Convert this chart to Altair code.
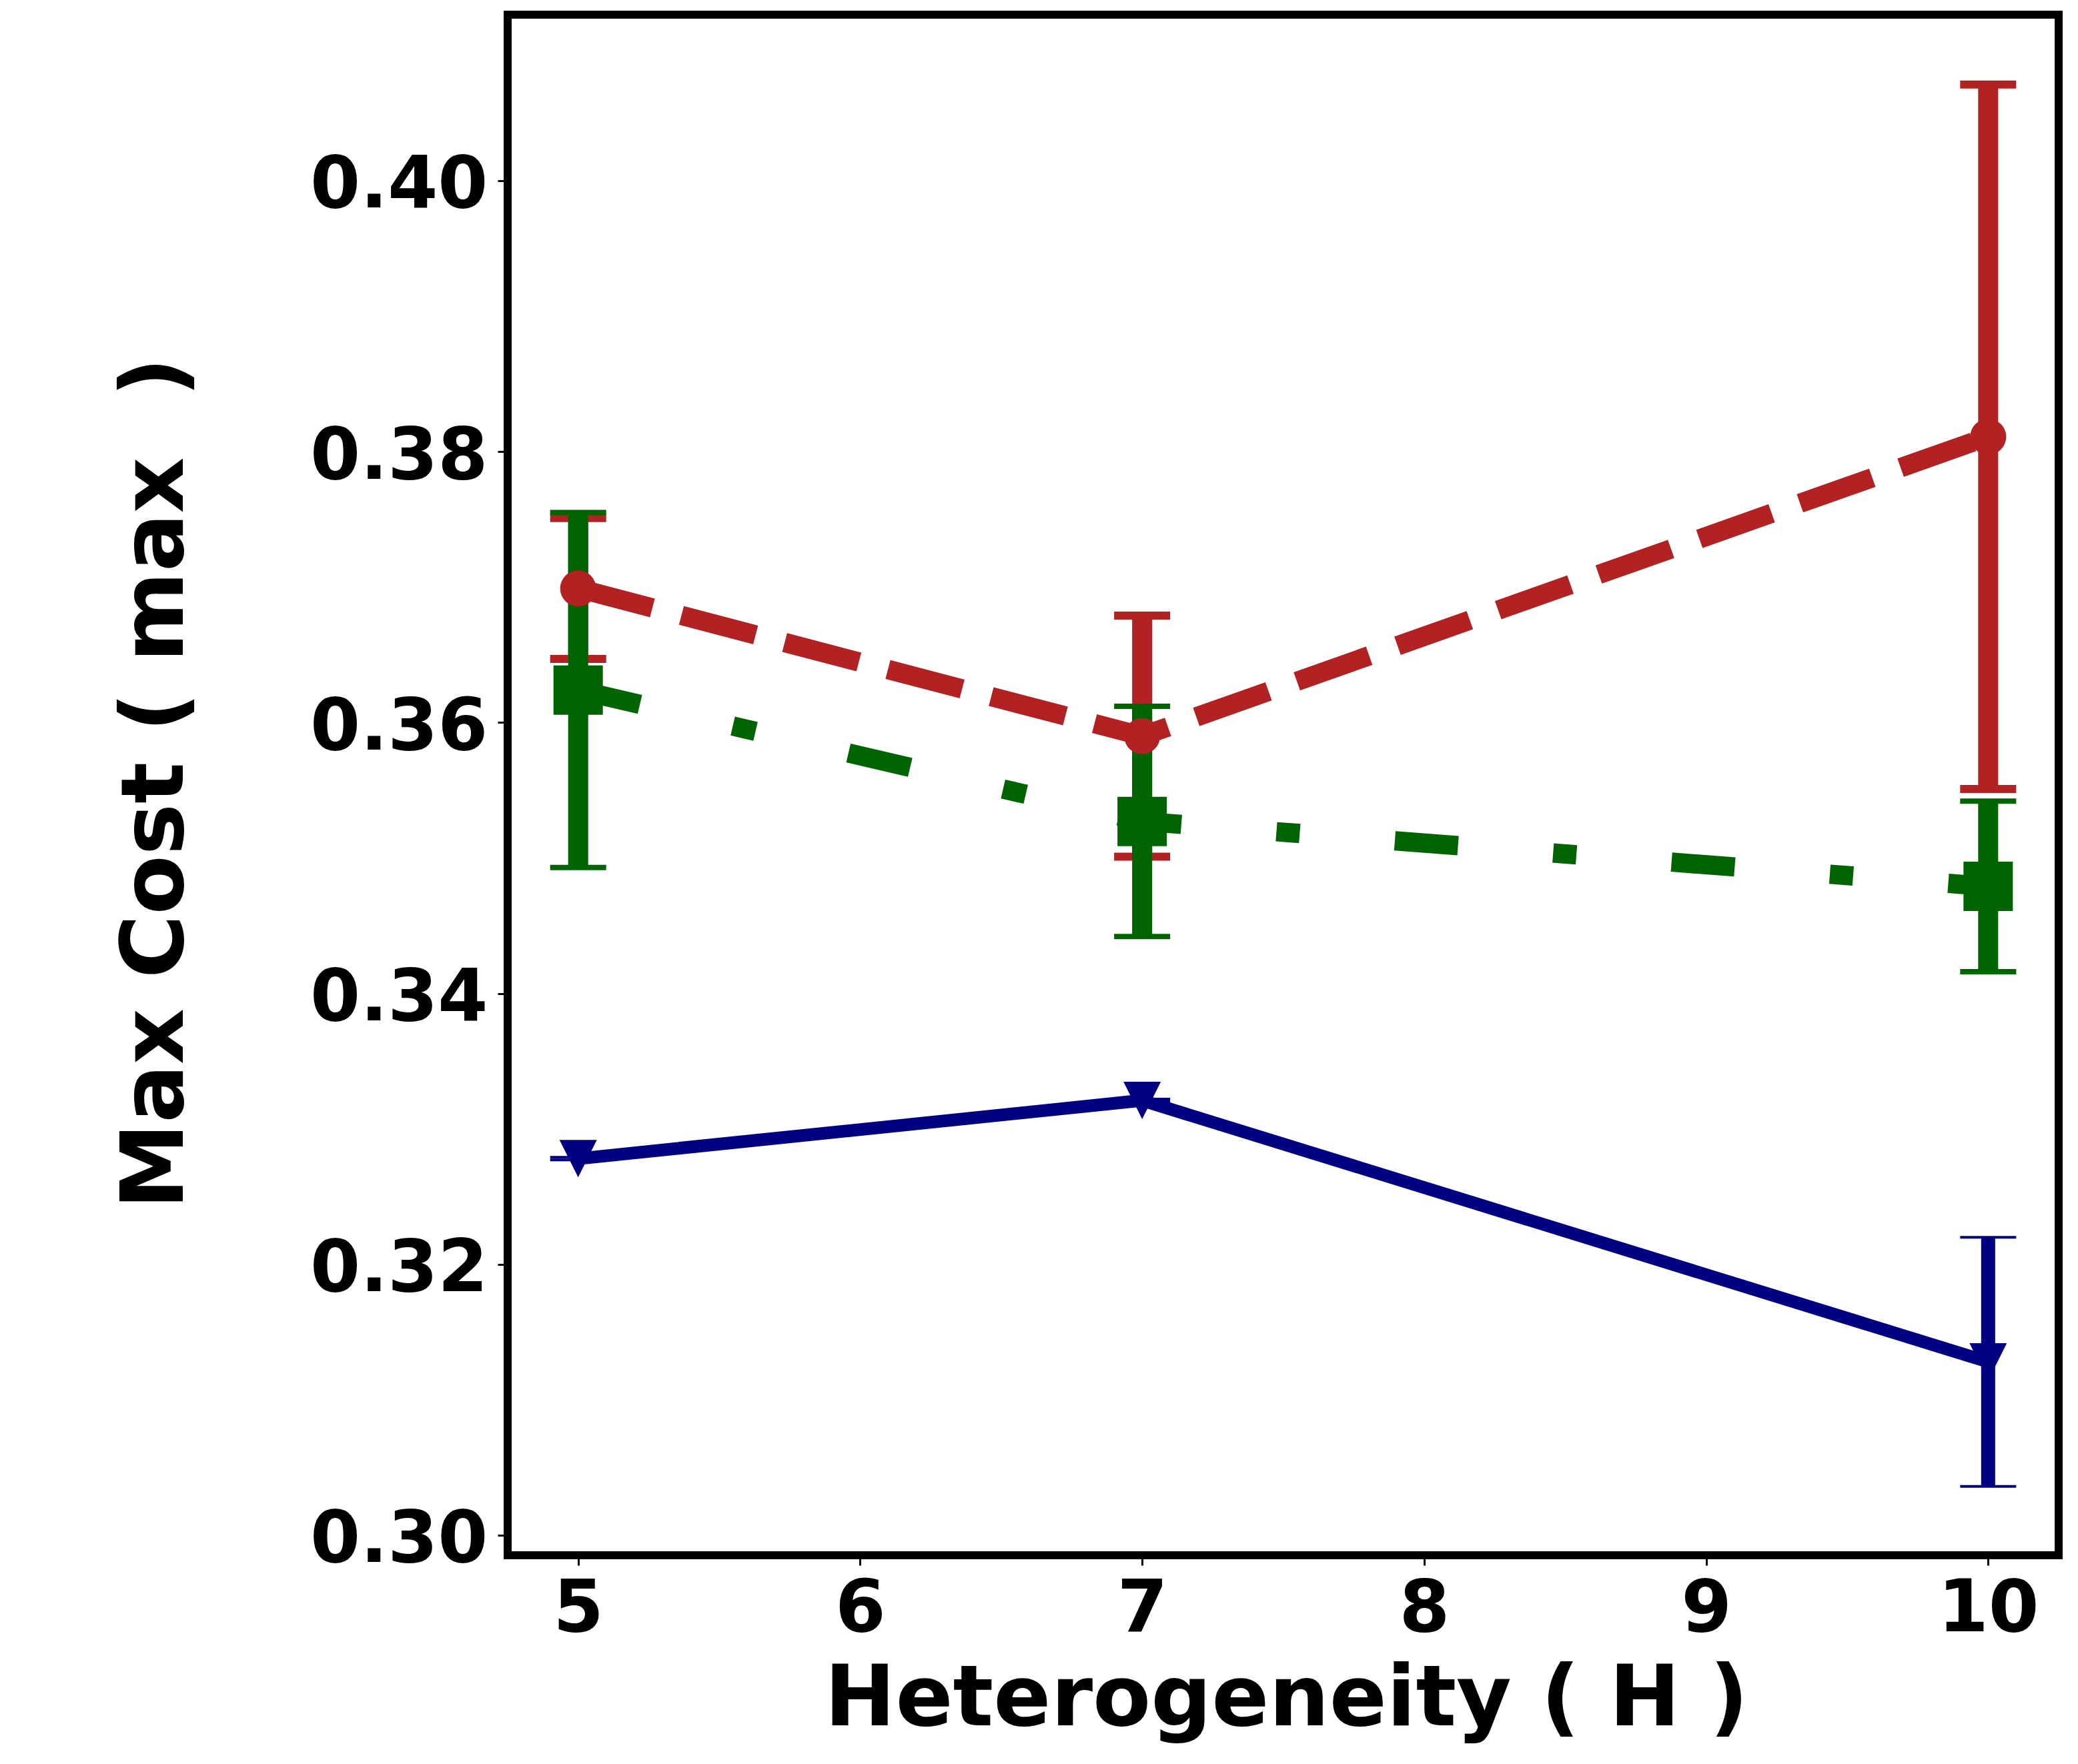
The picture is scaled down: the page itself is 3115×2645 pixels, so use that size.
import altair as alt
import pandas as pd

# ---- data ----
H = [5, 7, 10]
red_mean = [0.3699, 0.3590, 0.3811]
red_err = [0.0052, 0.0089, 0.0260]
green_mean = [0.3624, 0.3527, 0.3479]
green_err = [0.0131, 0.0085, 0.0063]
blue_mean = [0.3278, 0.3321, 0.3128]
blue_err = [0.0001, 0.0001, 0.0092]

x_ticks = [5, 6, 7, 8, 9, 10]
y_ticks = [0.30, 0.32, 0.34, 0.36, 0.38, 0.40]

FONT = "DejaVu Sans"


def table(mean, err):
    return pd.DataFrame({
        "H": H,
        "cost": mean,
        "lo": [m - e for m, e in zip(mean, err)],
        "hi": [m + e for m, e in zip(mean, err)],
    })


series = [
    dict(df=table(red_mean, red_err), color="#B22222", lw=29, dash=[115, 45],
         shape="circle", size=2916, ebw=30, capw=12),
    dict(df=table(green_mean, green_err), color="#006400", lw=29, dash=[95, 143, 35, 143],
         shape="square", size=5476, ebw=30, capw=8),
    dict(df=table(blue_mean, blue_err), color="#000080", lw=19, dash=None,
         shape="M-1,-1L1,-1L0,1Z", size=3136, ebw=21, capw=4),
]

xs = alt.Scale(domain=[4.75, 10.25], nice=False, zero=False)
ys = alt.Scale(domain=[0.29852, 0.41226], nice=False, zero=False)

x_axis = alt.Axis(
    values=x_ticks, format="d", title="Heterogeneity ( H )", grid=False, domain=False,
    tickSize=15, tickWidth=3, tickColor="black",
    labelFont=FONT, labelFontSize=109, labelFontWeight="bold", labelColor="black",
    labelPadding=12, labelLimit=0,
    titleFont=FONT, titleFontSize=127, titleFontWeight="bold", titleColor="black",
    titleBaseline="alphabetic", titleAlign="center", titleX=1167, titleY=254,
    titleLimit=0,
)
y_axis = alt.Axis(
    values=y_ticks, format=".2f", title="Max Cost ( max \u00a0)", grid=False, domain=False,
    tickSize=15, tickWidth=3, tickColor="black",
    labelFont=FONT, labelFontSize=108, labelFontWeight="bold", labelColor="black",
    labelPadding=15, labelOffset=8, labelLimit=0,
    titleFont=FONT, titleFontSize=130, titleFontWeight="bold", titleColor="black",
    titleAngle=270, titleBaseline="alphabetic", titleAlign="center",
    titleX=-488, titleY=1152, titleLimit=0,
)


def X():
    return alt.X("H:Q", scale=xs, axis=x_axis)


def Y(field):
    return alt.Y(f"{field}:Q", scale=ys, axis=y_axis)


layers = []
# error bars (below all data lines, as in matplotlib)
for s in series:
    base = alt.Chart(s["df"])
    layers.append(
        base.mark_rule(color=s["color"], strokeWidth=s["ebw"]).encode(
            x=X(), y=Y("lo"), y2="hi:Q",
        )
    )
    for field in ["lo", "hi"]:
        layers.append(
            base.mark_tick(color=s["color"], orient="horizontal", size=84,
                           thickness=s["capw"], opacity=1).encode(
                x=X(), y=Y(field),
            )
        )

# data lines and markers
for s in series:
    base = alt.Chart(s["df"])
    line_kw = dict(color=s["color"], strokeWidth=s["lw"])
    if s["dash"] is not None:
        line_kw.update(strokeDash=s["dash"], strokeCap="butt")
    else:
        line_kw.update(strokeCap="square", strokeJoin="round")
    layers.append(
        base.mark_line(**line_kw).encode(x=X(), y=Y("cost"))
    )
    layers.append(
        base.mark_point(shape=s["shape"], filled=True, size=s["size"],
                        color=s["color"], opacity=1, strokeWidth=0).encode(
            x=X(), y=Y("cost"),
        )
    )

chart = alt.layer(*layers).properties(
    width=2325,
    height=2310,
    autosize=alt.AutoSizeParams(type="none"),
    padding={"left": 753, "top": 14, "right": 21, "bottom": 305},
    background="white",
).configure_view(stroke="black", strokeWidth=12)

chart.save("out.html", embed_options={"renderer": "svg", "actions": False})
